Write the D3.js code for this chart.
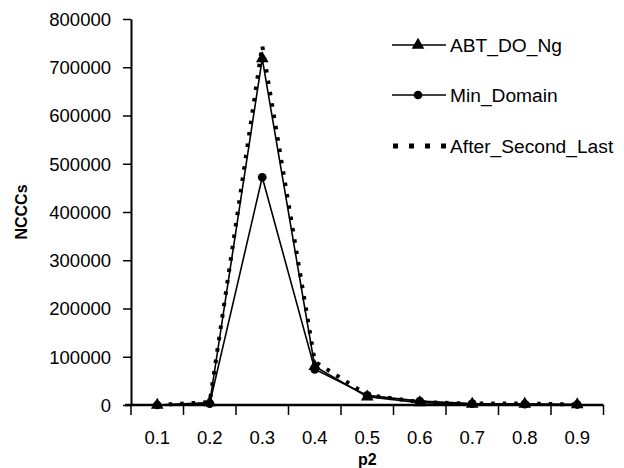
<!DOCTYPE html>
<html>
<head>
<meta charset="utf-8">
<script src="https://cdn.jsdelivr.net/npm/d3@7"></script>
<style>
  html, body { margin: 0; padding: 0; background: #fff; }
  svg { display: block; font-family: Arial, 'Liberation Sans', sans-serif; }
  .axis path, .axis line { stroke: #000; }
  .axis text { fill: #000; font-size: 18.5px; }
</style>
</head>
<body>
<svg id="chart" width="624" height="468"></svg>
<script>
const categories = ['0.1', '0.2', '0.3', '0.4', '0.5', '0.6', '0.7', '0.8', '0.9'];
const abtDoNg = [0, 5000, 718000, 80000, 17000, 5000, 2000, 2000, 1000];
const minDomain = [0, 3000, 472000, 74000, 20000, 8000, 3000, 2000, 1000];
const afterSecondLast = [0, 6000, 745000, 90000, 21000, 6000, 3000, 3000, 1000];
const yTicks = [0, 100000, 200000, 300000, 400000, 500000, 600000, 700000, 800000];

const series = [
  { name: 'ABT_DO_Ng', values: abtDoNg, marker: d3.symbolTriangle, dotted: false },
  { name: 'Min_Domain', values: minDomain, marker: d3.symbolCircle, dotted: false },
  { name: 'After_Second_Last', values: afterSecondLast, marker: null, dotted: true }
];

const svg = d3.select('#chart');
const plotLeft = 131, plotRight = 603.5, plotTop = 19, plotBottom = 405;

const x = d3.scaleBand().domain(categories).range([plotLeft, plotRight]).padding(0);
const cx = (c) => x(c) + x.bandwidth() / 2;
const y = d3.scaleLinear().domain([0, 800000]).range([plotBottom, plotTop]);
const markerSize = (m) => (m === d3.symbolCircle ? 60 : 70);

// y axis
const yAxis = svg.append('g')
  .attr('class', 'axis')
  .attr('transform', `translate(${plotLeft},0)`)
  .call(d3.axisLeft(y).tickValues(yTicks).tickSize(8).tickSizeOuter(0).tickPadding(12).tickFormat(d3.format('d')));
yAxis.select('.domain').attr('stroke-width', 2);
yAxis.selectAll('.tick line').attr('stroke-width', 1.5);
yAxis.selectAll('text').attr('dy', '0.35em');

// x axis: labels centred in bands, ticks on band edges
const xAxis = svg.append('g')
  .attr('class', 'axis')
  .attr('transform', `translate(0,${plotBottom})`)
  .call(d3.axisBottom(x).tickSize(0).tickSizeOuter(0).tickPadding(33));
xAxis.select('.domain').attr('stroke-width', 2.5).attr('d', `M${plotLeft - 6},0H${plotRight}`);
xAxis.selectAll('.tick text').attr('dy', '0.35em');
xAxis.append('g')
  .selectAll('line')
  .data(categories.map((c) => x(c)).concat([plotRight]))
  .join('line')
  .attr('x1', (d) => d).attr('x2', (d) => d)
  .attr('y1', 0).attr('y2', 10)
  .attr('stroke', '#000').attr('stroke-width', 1.5);

// axis titles
svg.append('text')
  .attr('x', (plotLeft + plotRight) / 2)
  .attr('y', 465)
  .attr('text-anchor', 'middle')
  .attr('font-size', 16)
  .attr('font-weight', 'bold')
  .text('p2');
svg.append('text')
  .attr('transform', `translate(27,${(plotTop + plotBottom) / 2}) rotate(-90)`)
  .attr('text-anchor', 'middle')
  .attr('font-size', 16)
  .attr('font-weight', 'bold')
  .text('NCCCs');

// lines
const line = d3.line().x((d, i) => cx(categories[i])).y((d) => y(d));
const plot = svg.append('g');
series.forEach((s) => {
  plot.append('path')
    .datum(s.values)
    .attr('d', line)
    .attr('fill', 'none')
    .attr('stroke', '#000')
    .attr('stroke-width', s.dotted ? 4 : 1.6)
    .attr('stroke-dasharray', s.dotted ? '3.5,8' : null);
  if (s.marker) {
    plot.append('g')
      .selectAll('path')
      .data(s.values)
      .join('path')
      .attr('transform', (d, i) => `translate(${cx(categories[i])},${y(d)})`)
      .attr('d', d3.symbol().type(s.marker).size(markerSize(s.marker)))
      .attr('fill', '#000');
  }
});

// legend
const legend = svg.append('g').attr('transform', 'translate(392,0)');
const legendY = [45, 95, 146];
series.forEach((s, i) => {
  const g = legend.append('g').attr('transform', `translate(0,${legendY[i]})`);
  g.append('line')
    .attr('x1', s.dotted ? 1 : 0).attr('x2', s.dotted ? 56 : 54)
    .attr('stroke', '#000')
    .attr('stroke-width', s.dotted ? 5 : 1.6)
    .attr('stroke-dasharray', s.dotted ? '5,11' : null);
  if (s.marker) {
    g.append('path')
      .attr('transform', 'translate(26,0)')
      .attr('d', d3.symbol().type(s.marker).size(markerSize(s.marker)))
      .attr('fill', '#000');
  }
  g.append('text')
    .attr('x', 58)
    .attr('dy', '0.35em')
    .attr('font-size', 19.2)
    .text(s.name);
});
</script>
</body>
</html>
